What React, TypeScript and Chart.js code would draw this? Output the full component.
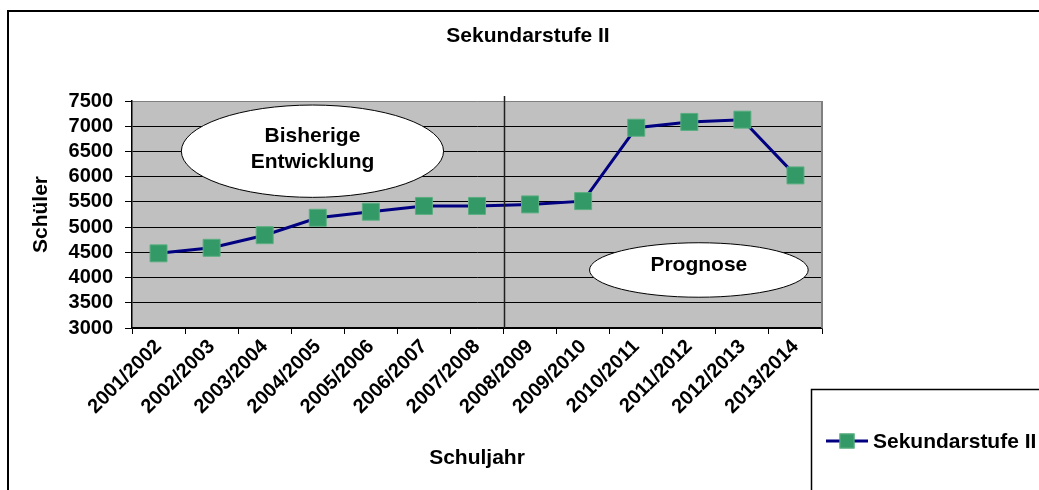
import React, { useEffect, useRef } from 'react';
import { Chart, registerables } from 'chart.js';

Chart.register(...registerables);

// ---- data ----
const schuljahre = [
  '2001/2002', '2002/2003', '2003/2004', '2004/2005', '2005/2006', '2006/2007', '2007/2008',
  '2008/2009', '2009/2010', '2010/2011', '2011/2012', '2012/2013', '2013/2014',
];
const schueler = [4480, 4590, 4840, 5185, 5305, 5420, 5420, 5450, 5515, 6970, 7085, 7130, 6025];
const yMin = 3000;
const yMax = 7500;
const yStep = 500;
const seriesName = 'Sekundarstufe II';
const chartTitle = 'Sekundarstufe II';
const xTitle = 'Schuljahr';
const yTitle = 'Schüler';
// boundary between past data and forecast (category units)
const prognoseBoundary = 6.5;
// annotation ellipses (category / value units)
const noteTexts = [['Bisherige', 'Entwicklung'], ['Prognose']];
const noteX = [2.9, 10.18];
const noteY = [6505, 4150];
const noteRx = [2.47, 2.06];
const noteRy = [915, 540];

const FONT = '"Liberation Sans", Arial, sans-serif';
const FS = 21;
const LINE_COLOR = '#000080';
const MARKER_FILL = '#339966';
const MARKER_EDGE = '#5aae80';

const decorPlugin = {
  id: 'decor',
  beforeDraw(chart: any) {
    const { ctx, chartArea } = chart;
    ctx.save();
    ctx.fillStyle = '#ffffff';
    ctx.fillRect(0, 0, chart.width, chart.height);
    ctx.fillStyle = '#c0c0c0';
    ctx.fillRect(chartArea.left, chartArea.top, chartArea.right - chartArea.left, chartArea.bottom - chartArea.top);
    ctx.restore();
  },
  afterDraw(chart: any) {
    const { ctx, chartArea } = chart;
    const xs = chart.scales.x;
    const ys = chart.scales.y;
    ctx.save();

    // right plot border
    ctx.strokeStyle = '#808080';
    ctx.lineWidth = 2;
    ctx.beginPath();
    ctx.moveTo(chartArea.right, chartArea.top);
    ctx.lineTo(chartArea.right, chartArea.bottom);
    ctx.stroke();

    // separator line
    const sx = Math.round(xs.getPixelForValue(prognoseBoundary)) + 0.5;
    ctx.strokeStyle = '#202020';
    ctx.lineWidth = 1.5;
    ctx.beginPath();
    ctx.moveTo(sx, chartArea.top - 5);
    ctx.lineTo(sx, chartArea.bottom);
    ctx.stroke();

    // ellipses
    for (let i = 0; i < noteTexts.length; i++) {
      const cx = xs.getPixelForValue(noteX[i]);
      const cy = ys.getPixelForValue(noteY[i]);
      const rx = Math.abs(xs.getPixelForValue(noteX[i] + noteRx[i]) - cx);
      const ry = Math.abs(ys.getPixelForValue(noteY[i] + noteRy[i]) - cy);
      ctx.beginPath();
      ctx.ellipse(cx, cy, rx, ry, 0, 0, Math.PI * 2);
      ctx.fillStyle = '#ffffff';
      ctx.fill();
      ctx.strokeStyle = '#000000';
      ctx.lineWidth = 1;
      ctx.stroke();
      ctx.fillStyle = '#000000';
      ctx.font = `bold ${FS}px ` + FONT;
      ctx.textAlign = 'center';
      ctx.textBaseline = 'middle';
      const lines = noteTexts[i];
      const lh = 26;
      const start = cy - ((lines.length - 1) * lh) / 2 - (lines.length > 1 ? 2 : 5);
      lines.forEach((t, k) => ctx.fillText(t, cx, start + k * lh));
    }

    // chart title
    ctx.fillStyle = '#000000';
    ctx.font = `bold ${FS}px ` + FONT;
    ctx.textAlign = 'center';
    ctx.textBaseline = 'middle';
    ctx.fillText(chartTitle, 528, 36);

    // legend box
    ctx.strokeStyle = '#000000';
    ctx.lineWidth = 1.5;
    ctx.strokeRect(811.5, 389.5, 400, 200);
    const ly = 441;
    ctx.strokeStyle = LINE_COLOR;
    ctx.lineWidth = 3;
    ctx.beginPath();
    ctx.moveTo(826, ly);
    ctx.lineTo(868, ly);
    ctx.stroke();
    ctx.fillStyle = MARKER_FILL;
    ctx.fillRect(839.5, ly - 7.5, 15, 15);
    ctx.strokeStyle = MARKER_EDGE;
    ctx.lineWidth = 1;
    ctx.strokeRect(840, ly - 7, 14, 14);
    ctx.fillStyle = '#000000';
    ctx.font = `bold ${FS}px ` + FONT;
    ctx.textAlign = 'left';
    ctx.textBaseline = 'middle';
    ctx.fillText(seriesName, 873, ly + 1);

    // outer frame
    ctx.strokeStyle = '#000000';
    ctx.lineWidth = 2;
    ctx.strokeRect(8, 11, 1060, 520);
    ctx.restore();
  },
};

export default function App() {
  const ref = useRef<HTMLCanvasElement | null>(null);
  useEffect(() => {
    if (!ref.current) return;
    const chart = new Chart(ref.current, {
      type: 'line',
      data: {
        labels: schuljahre,
        datasets: [
          {
            label: seriesName,
            data: schueler,
            borderColor: LINE_COLOR,
            borderWidth: 3,
            pointStyle: 'rect',
            pointRadius: 12,
            pointHoverRadius: 12,
            pointBackgroundColor: MARKER_FILL,
            pointBorderColor: MARKER_EDGE,
            pointBorderWidth: 1,
            tension: 0,
            fill: false,
          },
        ],
      },
      options: {
        responsive: false,
        animation: false,
        events: [],
        layout: { padding: { left: 0, top: 101, right: 217, bottom: 0 } },
        plugins: {
          legend: { display: false },
          title: { display: false },
          tooltip: { enabled: false },
        },
        scales: {
          x: {
            type: 'category',
            offset: true,
            grid: {
              offset: true,
              drawOnChartArea: false,
              drawTicks: true,
              tickLength: 6,
              tickColor: '#000000',
              color: '#000000',
            },
            border: { color: '#000000', width: 1.5 },
            ticks: {
              autoSkip: false,
              maxRotation: 45,
              minRotation: 45,
              padding: 1,
              color: '#000000',
              font: { family: FONT, size: 20, weight: 'bold' },
            },
            title: {
              display: true,
              text: xTitle,
              color: '#000000',
              font: { family: FONT, size: FS, weight: 'bold' },
              padding: { top: 0, bottom: 19 },
            },
            afterFit(scale: any) {
              scale.height = 162;
            },
          },
          y: {
            min: yMin,
            max: yMax,
            ticks: {
              stepSize: yStep,
              autoSkip: false,
              padding: 12,
              color: '#000000',
              font: { family: FONT, size: 20, weight: 'bold' },
              callback: (v: any) => String(v),
            },
            grid: {
              color: (c: any) => (c.tick && c.tick.value === yMax ? '#808080' : '#000000'),
              tickColor: '#000000',
              tickLength: 7,
              lineWidth: 1,
            },
            border: { color: '#000000', width: 1.5 },
            title: {
              display: true,
              text: yTitle,
              color: '#000000',
              font: { family: FONT, size: FS, weight: 'bold' },
              padding: { top: 29, bottom: 0 },
            },
            afterFit(scale: any) {
              scale.width = 132;
            },
          },
        },
      },
      plugins: [decorPlugin],
    });
    return () => chart.destroy();
  }, []);
  return (
    <div style={{ position: 'fixed', left: 0, top: 0, width: 1039, height: 490, background: '#fff' }}>
      <canvas ref={ref} width={1039} height={490} style={{ display: 'block', width: 1039, height: 490 }} />
    </div>
  );
}
